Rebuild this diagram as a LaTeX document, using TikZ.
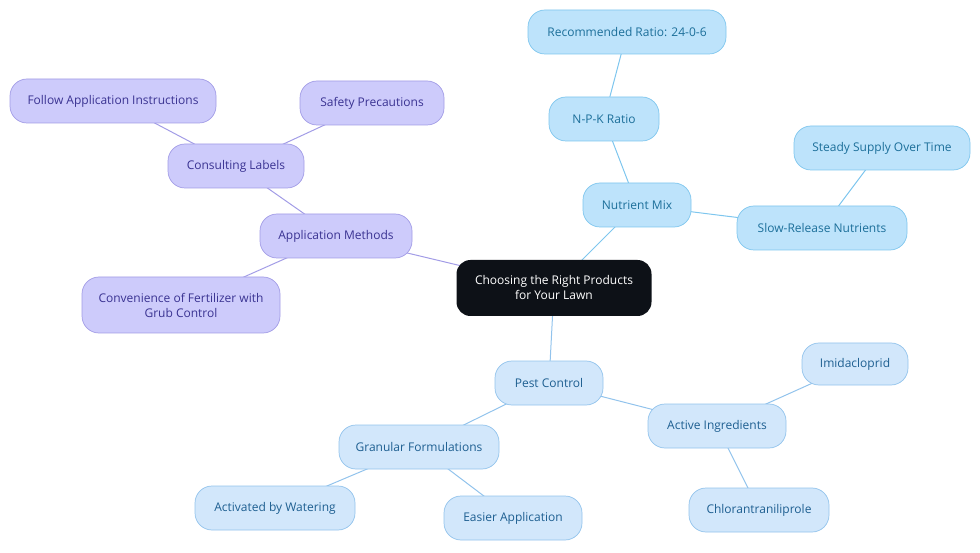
\documentclass[tikz,border=0pt]{standalone}
\usepackage{fontspec}
\setmainfont{Open Sans}
\usetikzlibrary{backgrounds}
\definecolor{bfill}{HTML}{BDE3FB}\definecolor{bdraw}{HTML}{7EC6EE}\definecolor{btext}{HTML}{1C6F9A}
\definecolor{lfill}{HTML}{D2E7FB}\definecolor{ldraw}{HTML}{92C3EC}\definecolor{ltext}{HTML}{1E5F91}
\definecolor{pfill}{HTML}{CDCBFB}\definecolor{pdraw}{HTML}{A29CE6}\definecolor{ptext}{HTML}{3A3392}
\definecolor{cfill}{HTML}{0D1117}
\begin{document}
\begin{tikzpicture}[x=1pt,y=-1pt,
 base/.style={rounded corners=17pt,minimum height=44pt,align=center,font=\fontsize{12}{15}\selectfont,line width=0.7pt,inner sep=2pt},
 blue/.style={base,fill=bfill,draw=bdraw,text=btext},
 lblue/.style={base,fill=lfill,draw=ldraw,text=ltext},
 purp/.style={base,fill=pfill,draw=pdraw,text=ptext},
 e/.style={line width=1pt},
 eb/.style={e,draw=bdraw},el/.style={e,draw=ldraw},ep/.style={e,draw=pdraw}]
\useasboundingbox (0,0) rectangle (980,553);
\node[base,fill=cfill,text=white,minimum width=195pt,minimum height=56pt,rounded corners=14pt] (c) at (554,288) {Choosing the Right Products\\for Your Lawn};
\node[blue,minimum width=108pt] (nm) at (637,205) {Nutrient Mix};
\node[blue,minimum width=110pt] (npk) at (604,119) {N-P-K Ratio};
\node[blue,minimum width=198pt] (rr) at (627,32) {Recommended Ratio: 24-0-6};
\node[blue,minimum width=170pt] (sr) at (822,228) {Slow-Release Nutrients};
\node[blue,minimum width=176pt] (ss) at (882,148) {Steady Supply Over Time};
\node[lblue,minimum width=108pt] (pc) at (549,383) {Pest Control};
\node[lblue,minimum width=138pt] (ai) at (717,426) {Active Ingredients};
\node[lblue,minimum width=106pt,minimum height=42pt] (im) at (855,364) {Imidacloprid};
\node[lblue,minimum width=140pt] (ch) at (759,510) {Chlorantraniliprole};
\node[lblue,minimum width=160pt] (gf) at (419,447) {Granular Formulations};
\node[lblue,minimum width=160pt] (aw) at (275,508) {Activated by Watering};
\node[lblue,minimum width=138pt] (ea) at (513,518) {Easier Application};
\node[purp,minimum width=152pt] (am) at (336,236) {Application Methods};
\node[purp,minimum width=136pt] (cl) at (236,166) {Consulting Labels};
\node[purp,minimum width=206pt] (fa) at (113,101) {Follow Application Instructions};
\node[purp,minimum width=144pt] (sp) at (372,103) {Safety Precautions};
\node[purp,minimum width=198pt,minimum height=56pt] (cv) at (181,305) {Convenience of Fertilizer with\\Grub Control};
\begin{scope}[on background layer]
\draw[eb] (c.center)--(nm.center) (nm.center)--(npk.center) (npk.center)--(rr.center) (nm.center)--(sr.center) (sr.center)--(ss.center);
\draw[el] (c.center)--(pc.center) (pc.center)--(ai.center) (ai.center)--(im.center) (ai.center)--(ch.center) (pc.center)--(gf.center) (gf.center)--(aw.center) (gf.center)--(ea.center);
\draw[ep] (c.center)--(am.center) (am.center)--(cl.center) (cl.center)--(fa.center) (cl.center)--(sp.center) (am.center)--(cv.center);
\end{scope}
\end{tikzpicture}
\end{document}
